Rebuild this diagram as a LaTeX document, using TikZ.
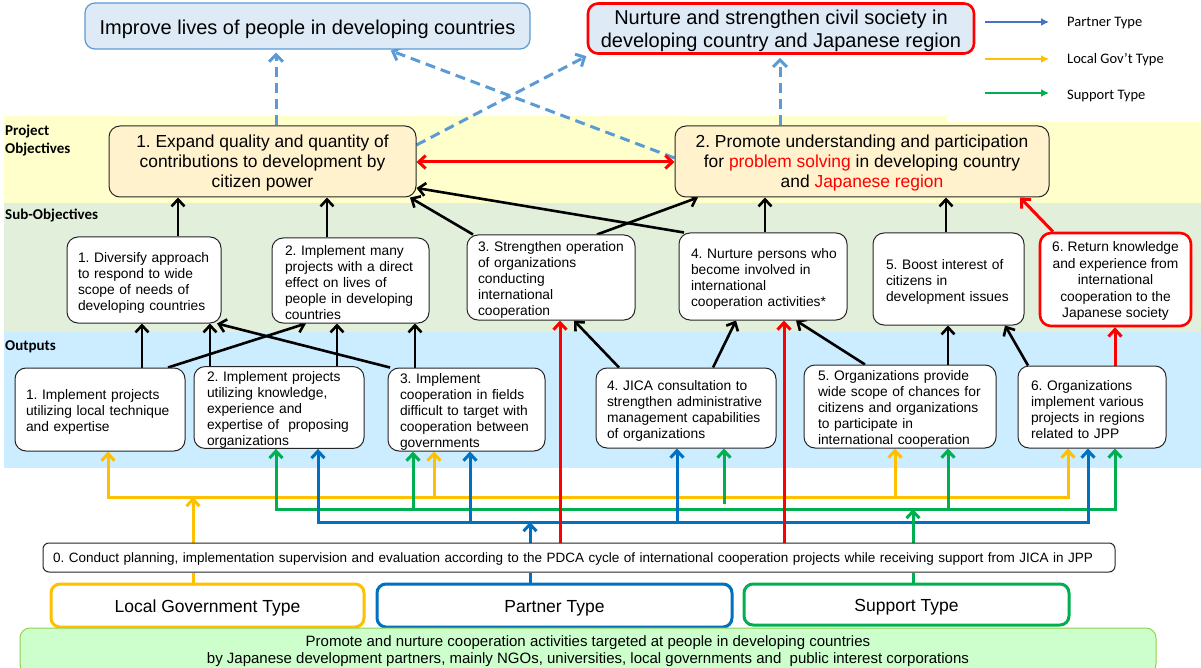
\documentclass[tikz,border=0pt]{standalone}
\usepackage{fontspec}
\setmainfont{Liberation Sans}
\newfontfamily\calibfont{Carlito}
\usetikzlibrary{arrows.meta}
\pgfdeclarelayer{bands}
\pgfdeclarelayer{links}
\pgfsetlayers{bands,links,main}
\definecolor{bandY}{RGB}{255,255,204}
\definecolor{bandG}{RGB}{226,239,218}
\definecolor{bandB}{RGB}{204,236,255}
\definecolor{poFill}{RGB}{255,242,204}
\definecolor{topFill}{RGB}{222,235,247}
\definecolor{topBorder}{RGB}{91,155,213}
\definecolor{cY}{RGB}{255,192,0}
\definecolor{cG}{RGB}{0,176,80}
\definecolor{cB}{RGB}{0,112,192}
\definecolor{cR}{RGB}{255,0,0}
\definecolor{dashB}{RGB}{91,155,213}
\definecolor{legB}{RGB}{68,114,196}
\definecolor{botFill}{RGB}{204,255,204}
\definecolor{botBorder}{RGB}{146,208,80}
\newcommand{\lx}[1]{\mbox{#1}}
\tikzset{
  sbox/.style={draw=black!85, line width=1pt, rounded corners=11pt, fill=white, inner sep=0pt,
    font=\fontsize{13.8}{16}\selectfont, align=left, text height=15pt},
  cbox/.style={draw=black!85, line width=1pt, rounded corners=11pt, fill=white, inner sep=0pt,
    font=\fontsize{13.8}{16.5}\selectfont, align=center, text depth=-1.5pt},
  pobox/.style={draw=black!85, line width=1pt, rounded corners=11pt, fill=poFill, inner sep=0pt,
    font=\fontsize{17.4}{20}\selectfont, align=center, text depth=-10pt},
  topbox/.style={rounded corners=10pt, fill=topFill, inner sep=0pt,
    font=\fontsize{20}{23}\selectfont, align=center},
  typebox/.style={rounded corners=9pt, fill=white, line width=3pt, inner sep=0pt,
    font=\fontsize{17.5}{20}\selectfont, text height=13pt, text depth=0pt},
  lbl/.style={inner sep=0pt, font=\calibfont\bfseries\fontsize{15}{18}\selectfont, align=left, anchor=west},
  leg/.style={inner sep=0pt, font=\calibfont\fontsize{14.5}{16}\selectfont, anchor=west},
  blk/.style={draw=black, line width=2.6pt, -{Straight Barb[length=7pt,width=13pt]}},
  redarr/.style={draw=cR, line width=3pt, -{Straight Barb[length=7pt,width=13pt]}},
  redboth/.style={draw=cR, line width=3pt, {Straight Barb[length=7pt,width=13pt]}-{Straight Barb[length=7pt,width=13pt]}},
  dsh/.style={draw=dashB, line width=3pt, dash pattern=on 10pt off 6pt, shorten >=3pt,
    -{Straight Barb[length=7pt,width=14pt]}},
  colarr/.style={line width=3pt, line join=miter, -{Straight Barb[length=7pt,width=13pt]}},
  colline/.style={line width=3pt},
  legarr/.style={line width=2.2pt, -{Latex[length=8pt,width=8pt]}}
}
\begin{document}
\frenchspacing
\begin{tikzpicture}[x=1pt,y=-1pt]
\useasboundingbox (0,0) rectangle (1201,668);
\clip (0,0) rectangle (1201,668);

% ---------- bands ----------
\begin{pgfonlayer}{bands}
  \fill[bandY] (4,116) rectangle (947,203);
  \fill[bandY] (947,122) rectangle (1201,203);
  \fill[bandG] (4,203) rectangle (1201,332);
  \fill[bandB] (4,332) rectangle (1201,468);
\end{pgfonlayer}

\node[lbl] (lpo) at (5,141) {Project\\Objectives};
\node[lbl] (lso) at (5,215) {Sub-Objectives};
\node[lbl] (lout) at (5,347) {Outputs};

% ---------- top goals ----------
\node[topbox, draw=topBorder, line width=1.2pt, minimum width=445pt, minimum height=46pt,
      text height=17pt, text depth=0pt] (imp) at (307.5,26)
  {Improve lives of people in developing countries};
\node[topbox, draw=cR, line width=2.6pt, minimum width=386pt, minimum height=50pt, text depth=-2pt] (nur) at (781,28.5)
  {Nurture and strengthen civil society in\\developing country and Japanese region};

% ---------- legend ----------
\coordinate (lp1) at (985,22);  \coordinate (lp2) at (1049,22);
\coordinate (ll1) at (985,59);  \coordinate (ll2) at (1049,59);
\coordinate (ls1) at (985,93);  \coordinate (ls2) at (1049,93);
\draw[legarr, legB] (lp1) -- (lp2);
\draw[legarr, cY] (ll1) -- (ll2);
\draw[legarr, cG] (ls1) -- (ls2);
\node[leg] (legp) at (1067,23) {Partner Type};
\node[leg] (legl) at (1067,60) {Local Gov’t Type};
\node[leg] (legs) at (1067,96) {Support Type};

% ---------- project objectives ----------
\node[pobox, minimum width=307pt, minimum height=71pt] (po1) at (262.5,161.5)
  {1. Expand quality and quantity of\\contributions to development by\\citizen power};
\node[pobox, minimum width=374pt, minimum height=71pt] (po2) at (862,161.5)
  {2. Promote understanding and participation\\for \textcolor{cR}{problem solving} in developing country\\and \textcolor{cR}{Japanese region}};

% ---------- sub-objectives ----------
\node[sbox, minimum width=154pt, minimum height=86pt, text width=132pt] (so1) at (144,280)
  {\lx{1. Diversify approach}\\\lx{to respond to wide}\\\lx{scope of needs of}\\\lx{developing countries}};
\node[sbox, minimum width=157pt, minimum height=85pt, text width=131pt] (so2) at (350.5,280.5)
  {\lx{2. Implement many}\\\lx{projects with a direct}\\\lx{effect on lives of}\\\lx{people in developing}\\\lx{countries}};
\node[sbox, minimum width=168pt, minimum height=85pt, text width=146pt] (so3) at (551,277.5)
  {\lx{3. Strengthen operation}\\\lx{of organizations}\\\lx{conducting}\\\lx{international}\\\lx{cooperation}};
\node[sbox, minimum width=168pt, minimum height=87pt, text width=144pt] (so4) at (763,276.5)
  {\lx{4. Nurture persons who}\\\lx{become involved in}\\\lx{international}\\\lx{cooperation activities*}};
\node[sbox, minimum width=151pt, minimum height=92pt, text width=125pt] (so5) at (948.5,279)
  {\lx{5. Boost interest of}\\\lx{citizens in}\\\lx{development issues}};
\node[cbox, draw=cR, line width=2.6pt, minimum width=151pt, minimum height=93pt] (so6) at (1115.5,279.5)
  {6. Return knowledge\\and experience from\\international\\cooperation to the\\Japanese society};

% ---------- outputs ----------
\node[sbox, minimum width=170pt, minimum height=83pt, text width=148pt] (o1) at (100,409.5)
  {\lx{1. Implement projects}\\\lx{utilizing local technique}\\\lx{and expertise}};
\node[sbox, minimum width=170pt, minimum height=81pt, text width=144pt] (o2) at (279,407.5)
  {\lx{2. Implement projects}\\\lx{utilizing knowledge,}\\\lx{experience and}\\\lx{expertise of\ \ proposing}\\\lx{organizations}};
\node[sbox, minimum width=157pt, minimum height=83pt, text width=133pt] (o3) at (466.5,409.5)
  {\lx{3. Implement}\\\lx{cooperation in fields}\\\lx{difficult to target with}\\\lx{cooperation between}\\\lx{governments}};
\node[sbox, minimum width=180pt, minimum height=80pt, text width=158pt] (o4) at (686,408)
  {\lx{4. JICA consultation to}\\\lx{strengthen administrative}\\\lx{management capabilities}\\\lx{of organizations}};
\node[sbox, minimum width=192pt, minimum height=83pt, text width=164pt] (o5) at (900,406.5)
  {\lx{5. Organizations provide}\\\lx{wide scope of chances for}\\\lx{citizens and organizations}\\\lx{to participate in}\\\lx{international cooperation}};
\node[sbox, minimum width=148pt, minimum height=82pt, text width=122pt] (o6) at (1092,407)
  {\lx{6. Organizations}\\\lx{implement various}\\\lx{projects in regions}\\\lx{related to JPP}};

% ---------- base ----------
\node[sbox, rounded corners=6pt, minimum width=1072pt, minimum height=29pt, text width=1052pt,
      font=\fontsize{13.5}{15}\selectfont, text height=9pt, text depth=0pt] (b0) at (579,557.5)
  {\lx{0. Conduct planning, implementation supervision and evaluation according to the PDCA cycle of international cooperation projects while receiving support from JICA in JPP}};
\node[typebox, draw=cY, minimum width=313pt, minimum height=43pt] (lg) at (207.5,605.5) {Local Government Type};
\node[typebox, draw=cB, minimum width=355pt, minimum height=43pt] (pt) at (554.5,605.5) {Partner Type};
\node[typebox, draw=cG, minimum width=325pt, minimum height=41pt] (st) at (906.5,604.5) {Support Type};
\node[draw=botBorder, line width=1pt, fill=botFill, rounded corners=10pt, inner sep=0pt,
      minimum width=1136pt, minimum height=46pt, align=center, font=\fontsize{15}{17}\selectfont] (bot) at (588,651)
  {Promote and nurture cooperation activities targeted at people in developing countries\\by Japanese development partners, mainly NGOs, universities, local governments and\ \ public interest corporations};

% ---------- connectors ----------
\begin{pgfonlayer}{links}
  % dashed to goals
  \draw[dsh] (276,0 |- po1.north) -- (276,0 |- imp.south);
  \draw[dsh] (po1.east |- 0,145) -- (589,0 |- nur.south);
  \draw[dsh] (po2.west |- 0,158) -- (388,0 |- imp.south);
  \draw[dsh] (780,0 |- po2.north) -- (780,0 |- nur.south);
  \draw[redboth] (po1.east |- 0,162) -- (po2.west |- 0,162);

  % sub-objectives -> project objectives
  \draw[blk] (178,0 |- so1.north) -- (178,0 |- po1.south);
  \draw[blk] (327,0 |- so2.north) -- (327,0 |- po1.south);
  \draw[blk] (473,0 |- so3.north) -- (410,0 |- po1.south);
  \draw[blk] (684,0 |- so4.north) -- (po1.east |- 0,188);
  \draw[blk] (597,0 |- so3.north) -- (698,0 |- po2.south);
  \draw[blk] (765,0 |- so4.north) -- (765,0 |- po2.south);
  \draw[blk] (946,0 |- so5.north) -- (946,0 |- po2.south);
  \draw[redarr] (1053,0 |- so6.north) -- (1020,0 |- po2.south);

  % outputs -> sub-objectives
  \draw[blk] (142,0 |- o1.north) -- (142,0 |- so1.south);
  \draw[blk] (210,0 |- o2.north) -- (210,0 |- so1.south);
  \draw[blk] (168,0 |- o1.north) -- (306,0 |- so2.south);
  \draw[blk] (390,0 |- o3.north) -- (217,0 |- so1.south);
  \draw[blk] (337,0 |- o2.north) -- (337,0 |- so2.south);
  \draw[blk] (415,0 |- o3.north) -- (415,0 |- so2.south);
  \draw[blk] (619,0 |- o4.north) -- (574,0 |- so3.south);
  \draw[blk] (713,0 |- o4.north) -- (736,0 |- so4.south);
  \draw[blk] (865,0 |- o5.north) -- (796,0 |- so4.south);
  \draw[blk] (948,0 |- o5.north) -- (948,0 |- so5.south);
  \draw[blk] (1028,0 |- o6.north) -- (1005,0 |- so5.south);
  \draw[redarr] (1115,0 |- o6.north) -- (1115,0 |- so6.south);

  % bus coordinates
  \coordinate (ysrc) at (193,497);
  \coordinate (gsrc) at (913,509);
  \coordinate (bsrc) at (530,522);

  % yellow (local government)
  \draw[colline, cY] (193,0 |- lg.north) -- (193,0 |- b0.south);
  \draw[colarr, cY] (193,0 |- b0.north) -- (ysrc);
  \draw[colarr, cY] (ysrc) -- (108,497) -- (108,0 |- o1.south);
  \draw[colarr, cY] (ysrc) -- (1068,497) -- (1068,0 |- o6.south);
  \draw[colarr, cY] (434,497) -- (434,0 |- o3.south);
  \draw[colarr, cY] (895,497) -- (895,0 |- o5.south);

  % green (support)
  \draw[colline, cG] (913,0 |- st.north) -- (913,0 |- b0.south);
  \draw[colarr, cG] (gsrc) -- (276,509) -- (276,0 |- o2.south);
  \draw[colarr, cG] (gsrc) -- (1115,509) -- (1115,0 |- o6.south);
  \draw[colarr, cG] (413,509) -- (413,0 |- o3.south);
  \draw[colarr, cG] (724,504) -- (724,0 |- o4.south);
  \draw[colarr, cG] (948,509) -- (948,0 |- o5.south);

  % blue (partner)
  \draw[colline, cB] (530,0 |- pt.north) -- (530,0 |- b0.south);
  \draw[colarr, cB] (530,0 |- b0.north) -- (bsrc);
  \draw[colarr, cB] (bsrc) -- (318,522) -- (318,0 |- o2.south);
  \draw[colarr, cB] (bsrc) -- (1088,522) -- (1088,0 |- o6.south);
  \draw[colarr, cB] (470,522) -- (470,0 |- o3.south);
  \draw[colarr, cB] (677,522) -- (677,0 |- o4.south);

  \draw[colarr, cG] (913,0 |- b0.north) -- (gsrc);

  % red long arrows from base
  \draw[redarr] (560,0 |- b0.north) -- (560,0 |- so3.south);
  \draw[redarr] (784,0 |- b0.north) -- (784,0 |- so4.south);
\end{pgfonlayer}
\end{tikzpicture}
\end{document}
